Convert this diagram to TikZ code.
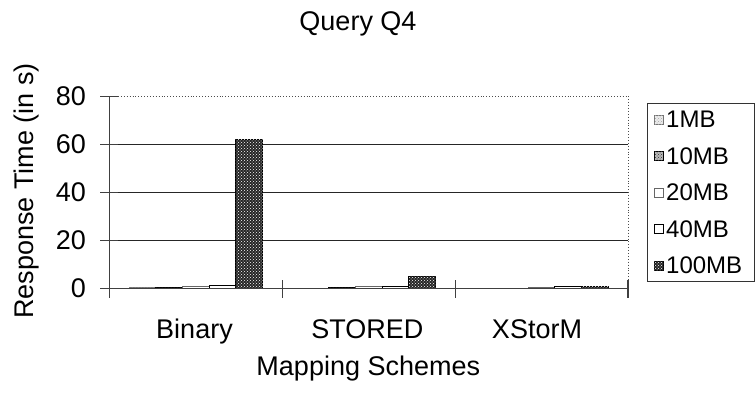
\documentclass[tikz,border=0pt]{standalone}
\usepackage{fontspec}
\setmainfont{Liberation Sans}
\usetikzlibrary{patterns}
\begin{document}
\begin{tikzpicture}[x=1pt,y=-1pt,
  lbl/.style={font=\fontsize{27}{27}\selectfont, inner sep=0pt},
  leg/.style={font=\fontsize{24}{24}\selectfont, inner sep=0pt, anchor=west},
  gridline/.style={line width=1.1pt, black!85},
  axisline/.style={line width=1.2pt, black!75},
  border/.style={line width=0.9pt, black!70, dotted},
  bA/.style={draw=black!55, line width=0.9pt, fill=gray!15, postaction={pattern=crosshatch dots, pattern color=gray!70}},
  bB/.style={draw=black, line width=0.9pt, fill=gray!55, postaction={pattern=crosshatch dots, pattern color=black!80}},
  bC/.style={draw=black!60, line width=0.9pt, fill=white},
  bD/.style={draw=black, line width=0.9pt, fill=white},
  bE/.style={draw=black, line width=0.9pt, fill=black!85, postaction={pattern=crosshatch dots, pattern color=white}}]
\useasboundingbox (0,0) rectangle (755,399);

% title
\node[lbl, anchor=base] (title) at (358,30) {Query Q4};

% plot border (dotted)
\coordinate (tl) at (109.3,96);
\coordinate (tr) at (628,96);
\coordinate (br) at (628,280);
\draw[border] (tl) -- (tr) -- (br);

% gridlines
\foreach \v in {20,40,60}{
  \draw[gridline] (109.3,288.5-\v*2.405) -- (628,288.5-\v*2.405);
}
% y ticks and labels
\foreach \v in {0,20,40,60,80}{
  \draw[axisline] (100,288.5-\v*2.405) -- (118,288.5-\v*2.405);
  \node[lbl, anchor=east] (t\v) at (86,288.5-\v*2.405) {\v};
}

% bars
\foreach \k/\va/\vb/\vc/\vd/\ve in {0/0.25/0.35/1.0/1.3/62.1, 1/0.1/0.45/1.0/1.0/4.9, 2/0.1/0.15/0.45/1.0/1.0}{
  \pgfmathsetmacro\bx{109.3+\k*172.9+19.7}
  \draw[bA] (\bx,288.5) rectangle ++(26.7,-\va*2.405);
  \draw[bB] (\bx+26.7,288.5) rectangle ++(26.7,-\vb*2.405);
  \draw[bC] (\bx+53.4,288.5) rectangle ++(26.7,-\vc*2.405);
  \draw[bD] (\bx+80.1,288.5) rectangle ++(26.7,-\vd*2.405);
  \draw[bE] (\bx+106.8,288.5) rectangle ++(26.7,-\ve*2.405);
}

% axes
\draw[axisline] (109.3,96) -- (109.3,298);
\draw[axisline] (109.3,288.5) -- (628,288.5);
\foreach \xx in {282.2,455.1,628}{
  \draw[axisline] (\xx,280) -- (\xx,298);
}

% category labels
\node[lbl, anchor=base] (c1) at (194.5,338) {Binary};
\node[lbl, anchor=base] (c2) at (367.3,338) {STORED};
\node[lbl, anchor=base] (c3) at (537,338) {XStorM};
\node[lbl, anchor=base] (xl) at (368.3,375) {Mapping Schemes};
\node[lbl, anchor=base, rotate=90] (yl) at (34,191) {Response Time (in s)};

% legend
\draw[line width=1pt, black!80] (647.3,103.3) rectangle (754.3,281);
\foreach \y/\s/\t in {119.5/bA/1MB, 156/bB/10MB, 192.5/bC/20MB, 229/bD/40MB, 265.5/bE/100MB}{
  \draw[\s, line width=0.7pt] (654,\y-4.5) rectangle (663,\y+4.5);
  \node[leg] (l\t) at (666,\y) {\t};
}
\end{tikzpicture}
\end{document}
